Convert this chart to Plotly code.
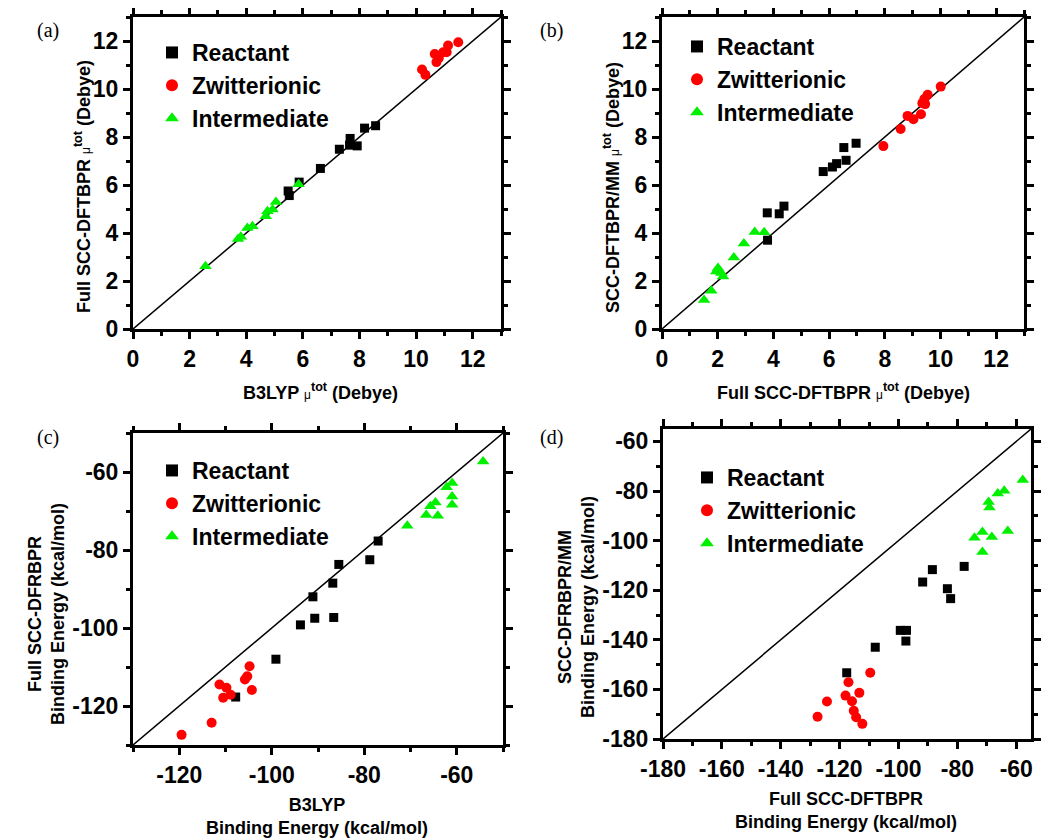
import plotly.graph_objects as go

# ---------------- data ----------------
# Panel (a): B3LYP mu_tot (x) vs Full SCC-DFTBPR mu_tot (y)
a_react_x = [5.48, 5.52, 5.87, 6.62, 7.29, 7.65, 7.67, 7.92, 8.18, 8.57]
a_react_y = [5.75, 5.56, 6.12, 6.69, 7.49, 7.66, 7.94, 7.63, 8.37, 8.47]
a_zwit_x = [10.21, 10.33, 10.66, 10.72, 10.80, 10.96, 11.13, 11.08, 11.49]
a_zwit_y = [10.81, 10.59, 11.46, 11.12, 11.28, 11.53, 11.81, 11.53, 11.95]
a_int_x = [2.56, 3.71, 3.81, 4.04, 4.22, 4.69, 4.75, 4.93, 5.05, 5.85]
a_int_y = [2.61, 3.75, 3.84, 4.21, 4.28, 4.70, 4.91, 4.98, 5.29, 6.03]

# Panel (b): Full SCC-DFTBPR mu_tot (x) vs SCC-DFTBPR/MM mu_tot (y)
b_react_x = [3.78, 3.79, 4.21, 4.38, 5.79, 6.12, 6.27, 6.53, 6.61, 6.97]
b_react_y = [4.84, 3.70, 4.80, 5.12, 6.56, 6.75, 6.89, 7.56, 7.03, 7.74]
b_zwit_x = [7.95, 8.57, 8.82, 9.03, 9.30, 9.35, 9.42, 9.54, 10.01, 9.45]
b_zwit_y = [7.62, 8.33, 8.88, 8.74, 8.95, 9.41, 9.58, 9.76, 10.10, 9.37]
b_int_x = [1.51, 1.77, 1.95, 2.01, 2.13, 2.19, 2.58, 2.94, 3.33, 3.67]
b_int_y = [1.21, 1.59, 2.40, 2.54, 2.33, 2.19, 2.98, 3.56, 4.04, 4.03]

# Panel (c): B3LYP binding energy (x) vs Full SCC-DFRBPR binding energy (y)
c_react_x = [-107.8, -99.1, -93.8, -91.1, -90.7, -86.8, -86.6, -85.5, -78.8, -77.0]
c_react_y = [-117.7, -108.0, -99.2, -92.0, -97.5, -88.5, -97.3, -83.7, -82.5, -77.7]
c_zwit_x = [-119.5, -113.0, -111.3, -110.5, -109.8, -108.9, -105.8, -105.3, -104.8, -104.3]
c_zwit_y = [-127.4, -124.3, -114.5, -117.9, -115.3, -117.1, -113.2, -112.4, -109.8, -115.9]
c_int_x = [-70.7, -66.6, -65.7, -64.6, -64.1, -62.2, -61.0, -61.0, -61.0, -54.3]
c_int_y = [-73.8, -71.0, -68.8, -67.8, -71.2, -63.9, -62.8, -66.3, -68.4, -57.3]

# Panel (d): Full SCC-DFTBPR binding energy (x) vs SCC-DFRBPR/MM binding energy (y)
d_react_x = [-117.6, -107.9, -99.4, -97.3, -97.5, -91.8, -88.5, -83.4, -82.3, -77.7]
d_react_y = [-153.3, -143.0, -136.2, -136.2, -140.5, -116.7, -111.7, -119.4, -123.4, -110.4]
d_zwit_x = [-127.5, -124.3, -118.0, -117.0, -115.8, -115.2, -114.4, -113.3, -112.3, -109.6]
d_zwit_y = [-171.0, -164.9, -162.5, -157.1, -164.8, -168.6, -171.2, -161.4, -173.9, -153.3]
d_int_x = [-74.2, -71.5, -71.5, -69.4, -69.1, -68.3, -66.3, -64.1, -62.9, -57.8]
d_int_y = [-98.9, -96.5, -104.6, -84.4, -86.7, -98.5, -81.0, -79.9, -96.1, -75.6]

series_names = ["Reactant", "Zwitterionic", "Intermediate"]

# axis ranges / ticks
range_a = [0, 13]
range_b = [0, 13]
range_c = [-130, -50]
range_d_x = [-180, -55]
range_d_y = [-180, -55]
ticks_ab = [0, 2, 4, 6, 8, 10, 12]
ticks_c = [-120, -100, -80, -60]
ticks_d = [-180, -160, -140, -120, -100, -80, -60]

# ---------------- figure ----------------
FONT = "Liberation Sans, Arial, sans-serif"
colors = ["#000000", "#FF0000", "#00F000"]
symbols = ["square", "circle", "triangle-up"]
sizes = [9, 10, 11]

fig = go.Figure()

panels = [
    ("x", "y", "legend", [(a_react_x, a_react_y), (a_zwit_x, a_zwit_y), (a_int_x, a_int_y)], range_a, range_a),
    ("x2", "y2", "legend2", [(b_react_x, b_react_y), (b_zwit_x, b_zwit_y), (b_int_x, b_int_y)], range_b, range_b),
    ("x3", "y3", "legend3", [(c_react_x, c_react_y), (c_zwit_x, c_zwit_y), (c_int_x, c_int_y)], range_c, range_c),
    ("x4", "y4", "legend4", [(d_react_x, d_react_y), (d_zwit_x, d_zwit_y), (d_int_x, d_int_y)], range_d_x, range_d_y),
]

for xa, ya, leg, data, rx, ry in panels:
    # diagonal y = x across the panel
    lo = max(rx[0], ry[0])
    hi = min(rx[1], ry[1])
    fig.add_trace(go.Scatter(x=[lo, hi], y=[lo, hi], mode="lines",
                             line=dict(color="black", width=1.5),
                             xaxis=xa, yaxis=ya, showlegend=False, hoverinfo="skip"))
    for i, (xs, ys) in enumerate(data):
        fig.add_trace(go.Scatter(x=xs, y=ys, mode="markers", name=series_names[i],
                                 marker=dict(color=colors[i], symbol=symbols[i], size=sizes[i],
                                             line=dict(width=0)),
                                 xaxis=xa, yaxis=ya, legend=leg))

def axis_style(rng, tickvals, domain, anchor):
    step = tickvals[1] - tickvals[0]
    return dict(range=rng, tickvals=tickvals, ticktext=[str(v) for v in tickvals],
                domain=domain, anchor=anchor,
                showgrid=False, zeroline=False, showline=True, linecolor="black",
                linewidth=3, mirror="allticks", ticks="outside", ticklen=7,
                tickwidth=2.5, tickcolor="black",
                minor=dict(ticks="outside", ticklen=4, tickwidth=2.5, tickcolor="black",
                           tick0=tickvals[0], dtick=step / 2, showgrid=False),
                tickfont=dict(family=FONT, size=23, color="black", weight="bold"),
                automargin=False, fixedrange=True)

# the page body has an 8px margin at top/left
OFF = 8
W, H = 1050 - OFF, 840 - OFF
def px(sx):
    return (sx - OFF) / W
def py(sy):
    return 1 - (sy - OFF) / H
def dx(a, b):
    return [px(a), px(b)]
def dy(top, bottom):
    return [py(bottom), py(top)]

fig.update_layout(
    xaxis=axis_style(range_a, ticks_ab, dx(133, 501), "y"),
    yaxis=axis_style(range_a, ticks_ab, dy(17, 329), "x"),
    xaxis2=axis_style(range_b, ticks_ab, dx(662, 1024), "y2"),
    yaxis2=axis_style(range_b, ticks_ab, dy(17, 329), "x2"),
    xaxis3=axis_style(range_c, ticks_c, dx(133, 503), "y3"),
    yaxis3=axis_style(range_c, ticks_c, dy(433, 745), "x3"),
    xaxis4=axis_style(range_d_x, ticks_d, dx(663, 1031), "y4"),
    yaxis4=axis_style(range_d_y, ticks_d, dy(429, 739), "x4"),
)

legfont = dict(family=FONT, size=23, color="black", weight="bold")
def legend_at(sx, sy):
    return dict(x=px(sx), y=py(sy), xanchor="left", yanchor="top",
                bgcolor="rgba(0,0,0,0)", borderwidth=0, font=legfont,
                itemsizing="constant", tracegroupgap=0)

fig.update_layout(
    legend=legend_at(152, 31),
    legend2=legend_at(677, 25),
    legend3=legend_at(152, 449),
    legend4=legend_at(687, 456),
)

MU = "<span style='font-size:12px;font-weight:normal'>μ</span>"
tfont = dict(family=FONT, size=18, color="black", weight="bold")
annotations = [
    # panel labels
    dict(text="(a)", x=px(48), y=py(30)),
    dict(text="(b)", x=px(551), y=py(30)),
    dict(text="(c)", x=px(48), y=py(437)),
    dict(text="(d)", x=px(551), y=py(437)),
]
for a in annotations:
    a.update(xref="paper", yref="paper", showarrow=False,
             xanchor="center", yanchor="middle",
             font=dict(family="Liberation Serif, Times New Roman, serif", size=20, color="black"))

titles = [
    dict(text="B3LYP " + MU + "<sup>tot</sup> (Debye)", x=320, y=391, textangle=0),
    dict(text="Full SCC-DFTBPR " + MU + "<sup>tot</sup> (Debye)", x=82, y=187, textangle=-90),
    dict(text="Full SCC-DFTBPR " + MU + "<sup>tot</sup> (Debye)", x=843, y=391, textangle=0),
    dict(text="SCC-DFTBPR/MM " + MU + "<sup>tot</sup> (Debye)", x=611, y=188, textangle=-90),
    dict(text="B3LYP<br>Binding Energy (kcal/mol)", x=317, y=816, textangle=0),
    dict(text="Full SCC-DFRBPR<br>Binding Energy (kcal/mol)", x=46, y=614, textangle=-90),
    dict(text="Full SCC-DFTBPR<br>Binding Energy (kcal/mol)", x=846, y=810, textangle=0),
    dict(text="SCC-DFRBPR/MM<br>Binding Energy (kcal/mol)", x=576, y=607, textangle=-90),
]
for t in titles:
    annotations.append(dict(text=t["text"], x=px(t["x"]), y=py(t["y"]),
                            xref="paper", yref="paper", showarrow=False,
                            textangle=t["textangle"], font=tfont,
                            xanchor="center", yanchor="middle"))

fig.update_layout(
    annotations=annotations,
    width=W, height=H,
    margin=dict(l=0, r=0, t=0, b=0, pad=0, autoexpand=False),
    paper_bgcolor="white", plot_bgcolor="white",
    showlegend=True,
)

fig.write_html("out.html")
